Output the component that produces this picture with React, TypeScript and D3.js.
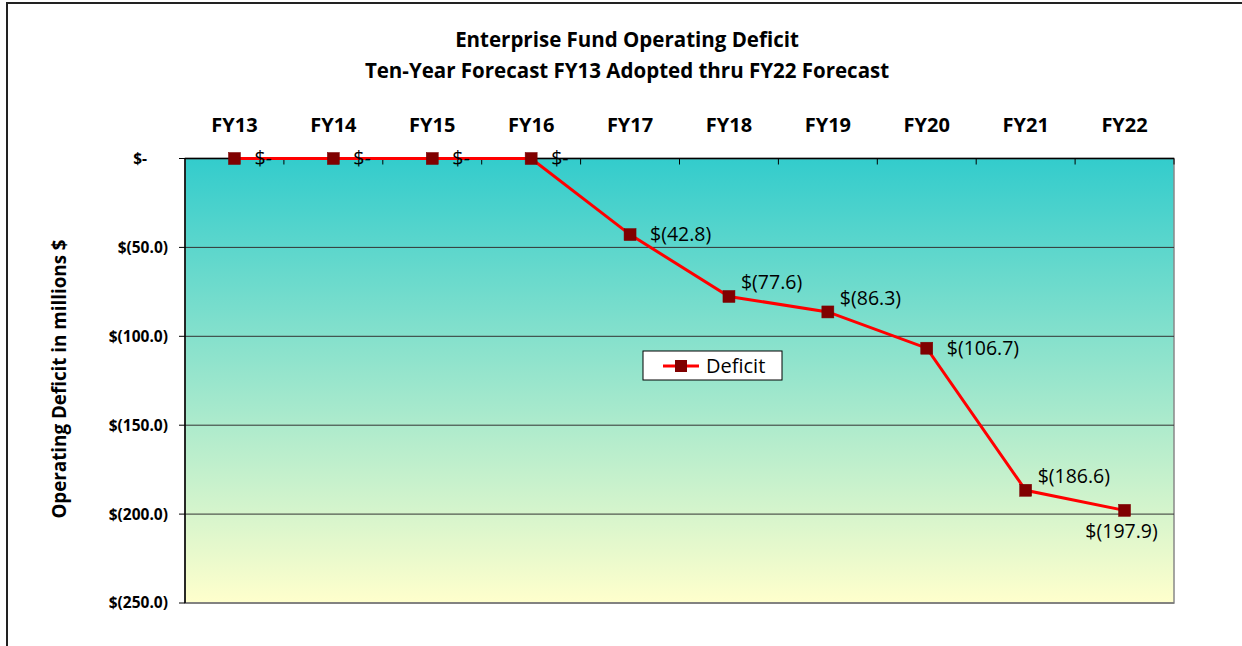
import React from "react";
import * as d3 from "d3";

const categories = ["FY13", "FY14", "FY15", "FY16", "FY17", "FY18", "FY19", "FY20", "FY21", "FY22"];
const deficit = [0, 0, 0, 0, -42.8, -77.6, -86.3, -106.7, -186.6, -197.9];
const yTicks = [0, -50, -100, -150, -200, -250];
const labelPlacement = ["right", "right", "right", "right", "right", "aboveRight", "aboveRight", "right", "aboveRight", "below"];

const W = 1242;
const H = 646;
const FONT = "'Open Sans', sans-serif";

const plot = { left: 185, right: 1174, top: 158.5, bottom: 603 };

function fmt(v: number): string {
  if (v === 0) return "$-";
  return "$(" + Math.abs(v).toFixed(1) + ")";
}

export default function App() {
  const x = d3.scaleBand<string>().domain(categories).range([plot.left, plot.right]).padding(0);
  const y = d3.scaleLinear().domain([0, -250]).range([plot.top, plot.bottom]);
  const cx = (c: string) => (x(c) as number) + x.bandwidth() / 2;

  const line = d3
    .line<number>()
    .x((_, i) => cx(categories[i]))
    .y((d) => y(d));

  const boundaries = categories.map((c) => x(c) as number).slice(1).concat([plot.right]);

  return (
    <svg width={W} height={H} style={{ position: "absolute", left: 0, top: 0, display: "block" }}>
      <defs>
        <linearGradient id="bg" x1="0" y1="0" x2="0" y2="1">
          <stop offset="0%" stopColor="#33CCCC" />
          <stop offset="100%" stopColor="#FFFFCC" />
        </linearGradient>
      </defs>
      <rect x={0} y={0} width={W} height={H} fill="#fff" />
      <rect x={7} y={3} width={W + 20} height={H + 20} fill="none" stroke="#222" strokeWidth={2} />

      <text x={627} y={47} textAnchor="middle" fontFamily={FONT} fontWeight="bold" fontSize={20.5} fill="#000">
        Enterprise Fund Operating Deficit
      </text>
      <text x={627} y={78} textAnchor="middle" fontFamily={FONT} fontWeight="bold" fontSize={20.5} fill="#000">
        Ten-Year Forecast FY13 Adopted thru FY22 Forecast
      </text>

      <rect
        x={plot.left}
        y={plot.top}
        width={plot.right - plot.left}
        height={plot.bottom - plot.top}
        fill="url(#bg)"
        stroke="#888"
        strokeWidth={1.5}
      />
      {yTicks.filter((t) => t !== 0 && t !== -250).map((t) => (
        <line key={t} x1={plot.left} x2={plot.right} y1={y(t)} y2={y(t)} stroke="#333" strokeWidth={1} />
      ))}
      <line x1={plot.left} x2={plot.right} y1={y(-250)} y2={y(-250)} stroke="#777" strokeWidth={1.5} />
      <line x1={plot.left} x2={plot.left} y1={plot.top} y2={plot.bottom} stroke="#000" strokeWidth={1.5} />
      {yTicks.map((t) => (
        <line key={"tk" + t} x1={plot.left - 6} x2={plot.left} y1={y(t)} y2={y(t)} stroke="#000" strokeWidth={1} />
      ))}
      {yTicks.map((t) => (
        <text
          key={"yl" + t}
          x={t === 0 ? 147 : 168}
          y={y(t)}
          dy="0.35em"
          textAnchor="end"
          fontFamily={FONT}
          fontWeight="bold"
          fontSize={15.5}
          fill="#000"
        >
          {fmt(t)}
        </text>
      ))}
      <line x1={plot.left} x2={plot.right} y1={plot.top} y2={plot.top} stroke="#000" strokeWidth={1.5} />
      {boundaries.map((b, i) => (
        <line key={"xt" + i} x1={b} x2={b} y1={plot.top} y2={plot.top + 6} stroke="#000" strokeWidth={1} />
      ))}
      {categories.map((c) => (
        <text key={c} x={cx(c)} y={125} dy="0.35em" textAnchor="middle" fontFamily={FONT} fontWeight="bold" fontSize={20} fill="#000">
          {c}
        </text>
      ))}

      <text
        transform={`translate(59, 379) rotate(-90)`}
        textAnchor="middle"
        dy="0.35em"
        fontFamily={FONT}
        fontWeight="bold"
        fontSize={18.8}
        fill="#000"
      >
        Operating Deficit in millions $
      </text>

      <path d={line(deficit) as string} fill="none" stroke="#FF0000" strokeWidth={3} />
      {deficit.map((v, i) => (
        <rect key={"m" + i} x={cx(categories[i]) - 6} y={y(v) - 6} width={12} height={12} fill="#800000" stroke="#7a0000" strokeWidth={0.5} />
      ))}
      {deficit.map((v, i) => {
        const p = labelPlacement[i];
        const px = cx(categories[i]);
        const py = y(v);
        let lx = px + 20;
        let ly = py;
        let anchor = "start";
        if (p === "aboveRight") {
          lx = px + 12;
          ly = py - 14;
        } else if (p === "below") {
          lx = px - 3;
          ly = py + 21;
          anchor = "middle";
        }
        return (
          <text key={"l" + i} x={lx} y={ly} dy="0.35em" textAnchor={anchor} fontFamily={FONT} fontSize={19.5} fill="#000">
            {fmt(v)}
          </text>
        );
      })}

      <rect x={643} y={351} width={139} height={29} fill="#fff" stroke="#000" strokeWidth={1} />
      <line x1={663} x2={699} y1={366} y2={366} stroke="#FF0000" strokeWidth={3} />
      <rect x={675} y={360} width={12} height={12} fill="#800000" />
      <text x={706} y={366} dy="0.35em" fontFamily={FONT} fontSize={20} fill="#000">
        Deficit
      </text>
    </svg>
  );
}
